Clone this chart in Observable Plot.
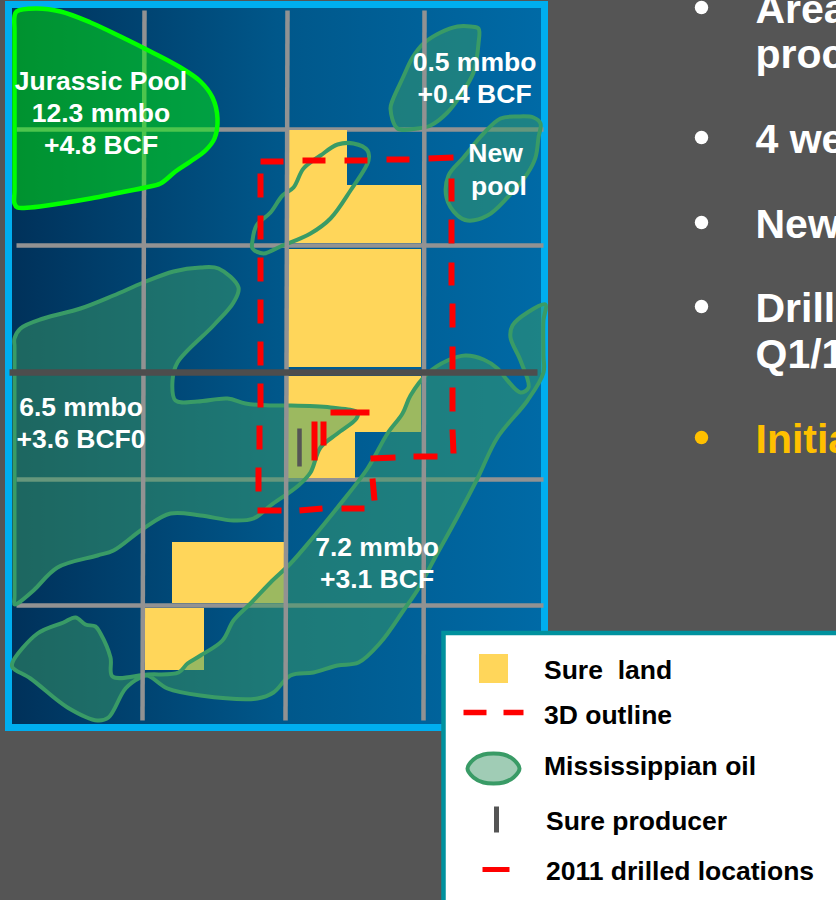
<!DOCTYPE html>
<html>
<head>
<meta charset="utf-8">
<script src="https://cdn.jsdelivr.net/npm/d3@7"></script>
<script src="https://cdn.jsdelivr.net/npm/@observablehq/plot@0.6"></script>
<style>html,body{margin:0;padding:0;background:#555}svg{display:block}</style>
</head>
<body>
<div id="chart"></div>
<script>
// In the picture's own grid units
const frame = [{x1:5,x2:548,y1:1,y2:731}];
const mapArea = [{x1:12,x2:541,y1:8,y2:724}];
const gridH = [[16,129,543,129],[16,245,543,245],[16,479,543,479],[16,605,543,605]];
const gridV = [[144,10,142,720],[287,10,285,720],[424,10,423,720]];
const faultLine = [[9,372,537,372]];
const sureLand = [
  [288,347,130,185],[288,421,185,243],[288,421,249,367],
  [288,421,376,432],[288,355,432,478],[172,284,542,603],[145,204,608,670]
];
const jurassicPool = [[14,16],[16,11],[35,8],[60,11],[90,22],[120,36],[150,51],[180,67],[200,81],[212,97],[217,118],[214,138],[205,150],[190,161],[175,171],[160,183],[145,187],[120,192],[90,198],[60,203],[30,207],[17,207],[14,203],[14,190],[14,150],[14,70],[14,30]];
const oilNorth = [[478,28],[470,26],[457,26],[440,32],[423,43],[412,57],[402,78],[392,100],[390,108],[397,128],[417,128],[430,125],[447,112],[460,95],[473,72],[478,43]];
const oilNewPool = [[540,123],[533,117],[517,116],[500,118],[483,133],[463,157],[448,175],[446,197],[457,215],[467,220],[487,215],[507,197],[527,173],[535,157],[538,137]];
const oilCentre = [[252,240],[256,225],[270,212],[282,195],[293,187],[303,168],[320,155],[337,144],[353,143],[367,150],[368,160],[350,190],[330,218],[310,233],[280,246],[263,253],[252,248]];
const oilWest = [[14,338],[20,328],[43,318],[80,308],[113,295],[143,282],[173,271],[200,267],[218,268],[238,287],[233,302],[213,325],[177,362],[172,380],[175,400],[197,401],[227,398],[245,403],[270,405],[287,405],[330,407],[357,412],[356,418],[337,433],[320,447],[310,472],[298,485],[270,505],[253,518],[233,520],[200,515],[170,513],[143,528],[113,550],[97,555],[57,567],[33,590],[17,603],[14,604],[14,596],[14,580],[14,500],[14,420],[14,360],[14,346]];
const oilEast = [[545,304],[527,312],[512,325],[510,337],[520,360],[528,387],[520,392],[507,380],[497,368],[483,359],[465,355],[447,360],[427,373],[410,395],[402,413],[387,433],[367,468],[337,507],[310,540],[290,563],[270,582],[250,603],[233,620],[222,640],[200,655],[187,663],[178,672],[147,674],[112,676],[110,657],[100,633],[95,626],[85,624],[75,617],[63,622],[37,633],[12,662],[12,667],[30,678],[67,707],[97,720],[108,717],[125,688],[140,677],[147,675],[167,688],[200,695],[257,698],[273,692],[290,675],[313,672],[337,665],[358,662],[380,642],[403,610],[418,588],[433,560],[455,520],[477,478],[497,437],[527,400],[543,372],[543,355],[543,320]];
const outline3D = [
  [260,173,260,197],[260,215,260,239],[260,257,260,281],[260,299,260,323],[260,341,260,365],[260,383,260,407],[259,425,259,449],[258,467,258,491],
  [257,510,281,510],[299,510,322,508],[341,508,364,508],[374,500,372,478],[370,458,395,457],[413,456,437,456],
  [452,429,453,453],[452,387,452,411],[452,346,452,369],[452,303,452,327],[451,262,451,285],[451,219,451,243],[451,178,451,201],
  [428,158,453,157],[386,159,409,159],[344,160,367,160],[302,160,325,160],[260,161,283,161]
];
const drilled = [[330,412,369,412],[314,421,314,460],[323,421,323,445]];
const producers = [[299,428,299,466]];
const mapLabels = ["Jurassic Pool","12.3 mmbo","+4.8 BCF","0.5 mmbo","+0.4 BCF","New","pool","6.5 mmbo","+3.6 BCF0","7.2 mmbo","+3.1 BCF"];
const mapLabelX = [100.5,100.5,100.5,474,474,495,498.5,80.5,80.5,376.5,376.5];
const mapLabelY = [81,113,145,62,94,153,186,407,439,547,579];
const legendBox = [{x1:443.5,x2:840,y1:633,y2:905}];
const legendSwatch = [{x1:479,x2:508,y1:654,y2:683}];
const legendDash = [[463,712,486,712],[503,712,523,712]];
const legendOil = [[467,768],[473,759],[483,754],[493,753],[503,754],[513,759],[519,768],[513,777],[503,782],[493,783],[483,782],[473,777]];
const legendProducer = [[496,806,496,832]];
const legendDrilled = [[482,869,509,869]];
const legendLabels = ["Sure  land","3D outline","Mississippian oil","Sure producer","2011 drilled locations"];
const legendLabelX = [543.5,543.5,543.5,545.5,545.5];
const legendLabelY = [670,715,766,821,871];
const bulletLines = ["Area","proc","4 we","New","Drill","Q1/1","Initia"];
const bulletLineY = [9,54,139,224,308,354,439];
const bulletLineColor = ["#fff","#fff","#fff","#fff","#fff","#fff","#ffc000"];
const bulletDots = [7,137,222,306,437];
const bulletDotColor = ["#fff","#fff","#fff","#fff","#ffc000"];

const seg = s => s.map(([x1,y1,x2,y2]) => ({x1,y1,x2,y2}));
const link = (s, stroke, strokeWidth, o = {}) =>
  Plot.link(seg(s), {x1:"x1",y1:"y1",x2:"x2",y2:"y2",stroke,strokeWidth,strokeLinecap:"butt",...o});
const oil = (pts, filled = true) => Plot.line(pts, {x:"0",y:"1",curve:"catmull-rom-closed",fill:filled ? "#399b66" : "none",fillOpacity:0.5,stroke:"#399b66",strokeWidth:4,strokeLinejoin:"round"});
const F = "Liberation Sans, Arial, sans-serif";

const defs = () => {
  const d = d3.create("svg:defs");
  const g = d.append("linearGradient").attr("id","mapGrad").attr("x1",0).attr("x2",1).attr("y1",0).attr("y2",0);
  g.append("stop").attr("offset",0).attr("stop-color","#00315a");
  g.append("stop").attr("offset",0.5).attr("stop-color","#00578a");
  g.append("stop").attr("offset",1).attr("stop-color","#006aa6");
  return d.node();
};

const chart = Plot.plot({
  width:836, height:900, margin:0,
  style:{background:"#555555"},
  x:{domain:[0,836],range:[0,836],axis:null},
  y:{domain:[0,900],range:[0,900],axis:null},
  marks:[
    defs,
    Plot.rect(frame,{x1:"x1",x2:"x2",y1:"y1",y2:"y2",fill:"#00aeef"}),
    Plot.rect(mapArea,{x1:"x1",x2:"x2",y1:"y1",y2:"y2",fill:"url(#mapGrad)"}),
    link(gridH,"#929292",4.5),
    Plot.rect(sureLand,{x1:"0",x2:"1",y1:"2",y2:"3",fill:"#ffd65a"}),
    oil(oilWest), oil(oilEast), oil(oilCentre,false), oil(oilNorth), oil(oilNewPool),
    link(gridV,"#929292",4.5),
    link(faultLine,"#4d4d4d",6.5),
    Plot.line(jurassicPool,{x:"0",y:"1",curve:"catmull-rom-closed",fill:"#00ff00",fillOpacity:0.47,stroke:"#00ff00",strokeWidth:4.5}),
    link(outline3D,"#ff0000",6),
    link(drilled,"#ff0000",6),
    link(producers,"#555555",4.5),
    Plot.text(mapLabels,{x:(d,i)=>mapLabelX[i],y:(d,i)=>mapLabelY[i],text:d=>d,fill:"#fff",fontWeight:700,fontFamily:F,fontSize:26.5,textAnchor:"middle"}),
    Plot.rect(legendBox,{x1:"x1",x2:"x2",y1:"y1",y2:"y2",fill:"#fff",stroke:"#00919e",strokeWidth:4.5}),
    Plot.rect(legendSwatch,{x1:"x1",x2:"x2",y1:"y1",y2:"y2",fill:"#ffd65a"}),
    link(legendDash,"#ff0000",5.5),
    Plot.line(legendOil,{x:"0",y:"1",curve:"catmull-rom-closed",fill:"#a0ccb5",stroke:"#399b66",strokeWidth:4}),
    link(legendProducer,"#555555",5),
    link(legendDrilled,"#ff0000",5),
    Plot.text(legendLabels,{x:(d,i)=>legendLabelX[i],y:(d,i)=>legendLabelY[i],text:d=>d,fill:"#000",fontWeight:700,fontFamily:F,fontSize:26.5,textAnchor:"start"}),
    Plot.dot(bulletDots,{x:()=>701,y:d=>d,r:6.7,fill:(d,i)=>bulletDotColor[i]}),
    Plot.text(bulletLines,{x:()=>755,y:(d,i)=>bulletLineY[i],text:d=>d,fill:(d,i)=>bulletLineColor[i],fontWeight:700,fontFamily:F,fontSize:41,textAnchor:"start"})
  ]
});
document.getElementById("chart").append(chart);
</script>
</body>
</html>
